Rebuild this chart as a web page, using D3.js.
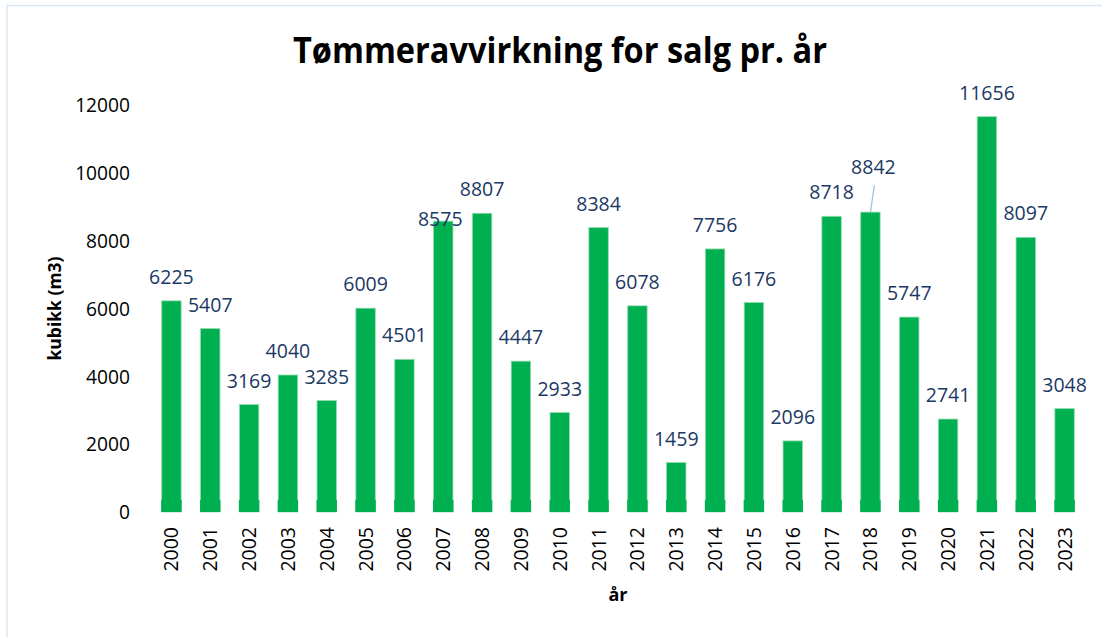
<!DOCTYPE html>
<html>
<head>
<meta charset="utf-8">
<script src="https://cdn.jsdelivr.net/npm/d3@7"></script>
<style>
  html, body { margin: 0; padding: 0; background: #fff; }
  svg { display: block; }
  text { font-family: "Open Sans", "Noto Sans", sans-serif; }
</style>
</head>
<body>
<svg id="chart" width="1102" height="637"></svg>
<script>
// ---- data ----
const years = ["2000","2001","2002","2003","2004","2005","2006","2007","2008","2009","2010","2011",
               "2012","2013","2014","2015","2016","2017","2018","2019","2020","2021","2022","2023"];
const volumes = [6225,5407,3169,4040,3285,6009,4501,8575,8807,4447,2933,8384,
                 6078,1459,7756,6176,2096,8718,8842,5747,2741,11656,8097,3048];
const yTicks = [0,2000,4000,6000,8000,10000,12000];
const titleText = "Tømmeravvirkning for salg pr. år";
const yTitle = "kubikk (m3)";
const xTitle = "år";
// manually moved data labels (as in the original chart): year -> [dx, dy]
const labelNudge = { "2007": [-3, 22], "2018": [3, -21] };

// ---- layout ----
const svg = d3.select("#chart");
const plot = { left: 152, right: 1084, top: 105, bottom: 512 };

svg.append("rect").attr("x", 7).attr("y", 5.5).attr("width", 1300).attr("height", 800)
  .attr("fill", "none").attr("stroke", "#DAE6F5").attr("stroke-width", 1.5);

const x = d3.scaleBand().domain(years).range([plot.left, plot.right]).paddingInner(0.5).paddingOuter(0.25);
const y = d3.scaleLinear().domain([0, 12000]).range([plot.bottom, plot.top]);

// title
svg.append("text").attr("x", 560).attr("y", 63).attr("text-anchor", "middle")
  .attr("font-size", 35).attr("font-weight", 700).attr("fill", "#000").text(titleText)
  .attr("textLength", 534).attr("lengthAdjust", "spacingAndGlyphs");

// y axis (no line, labels only)
const yAxis = d3.axisLeft(y).tickValues(yTicks).tickSize(0).tickPadding(0).tickFormat(d3.format("d"));
const gy = svg.append("g").attr("transform", `translate(130,0)`).call(yAxis);
gy.select(".domain").remove();
gy.selectAll("text").attr("font-size", 19.2).attr("fill", "#000")
  .attr("font-family", "'Open Sans', sans-serif").attr("dy", "0.35em");

// x axis (no line, rotated labels)
const xAxis = d3.axisBottom(x).tickSize(0).tickPadding(0);
const gx = svg.append("g").attr("transform", `translate(0,${plot.bottom})`).call(xAxis);
gx.select(".domain").remove();
gx.selectAll("text").attr("font-size", 19.5).attr("fill", "#000")
  .attr("font-family", "'Open Sans', sans-serif")
  .attr("text-anchor", "end").attr("transform", "rotate(-90)")
  .attr("x", -15).attr("y", 0).attr("dy", "0.36em").attr("dx", 0);

// bars
const green = "#00B050";
svg.append("g").selectAll("rect.bar").data(years).join("rect").attr("class", "bar")
  .attr("x", d => x(d)).attr("width", x.bandwidth())
  .attr("y", (d, i) => y(volumes[i])).attr("height", (d, i) => y(0) - y(volumes[i]))
  .attr("fill", green).attr("stroke", "#8fdcae").attr("stroke-width", 0.8);
svg.append("g").selectAll("rect.base").data(years).join("rect").attr("class", "base")
  .attr("x", d => x(d) - 0.5).attr("width", x.bandwidth() + 1)
  .attr("y", y(0) - 12).attr("height", 12).attr("fill", green);

// data labels
const lbl = svg.append("g");
years.forEach((yr, i) => {
  const nd = labelNudge[yr] || [0, 0];
  const cx = x(yr) + x.bandwidth() / 2;
  const top = y(volumes[i]);
  const ly = top - 17 + nd[1];
  if (yr === "2018") {
    lbl.append("line").attr("x1", cx).attr("y1", top).attr("x2", cx + nd[0] + 1).attr("y2", ly + 11)
      .attr("stroke", "#9DC3E6").attr("stroke-width", 1.3);
  }
  lbl.append("text").attr("x", cx + nd[0]).attr("y", ly).attr("text-anchor", "middle")
    .attr("font-size", 19.5).attr("fill", "#203864").text(volumes[i]);
});

// axis titles
svg.append("text").attr("transform", `translate(61,${(plot.top + plot.bottom) / 2}) rotate(-90)`)
  .attr("text-anchor", "middle").attr("font-size", 17.5).attr("font-weight", 700).attr("fill", "#000")
  .text(yTitle);
svg.append("text").attr("x", (plot.left + plot.right) / 2).attr("y", 601).attr("text-anchor", "middle")
  .attr("font-size", 18).attr("font-weight", 700).attr("fill", "#000").text(xTitle);
</script>
</body>
</html>
